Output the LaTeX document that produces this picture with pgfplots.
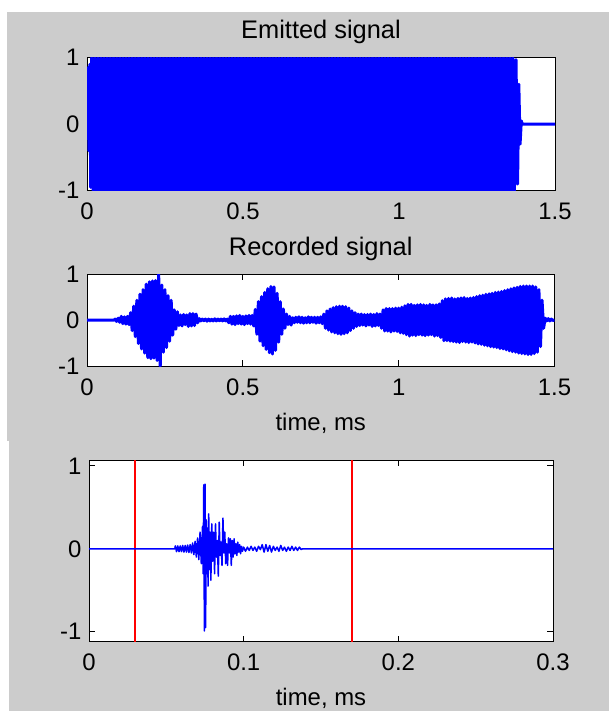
\documentclass[border=0pt]{standalone}
\usepackage{pgfplots}
\pgfplotsset{compat=1.18}
\usepackage{fontspec}
\setmainfont{Liberation Sans}
\definecolor{figgray}{RGB}{204,204,204}
\definecolor{mblue}{RGB}{0,0,255}
\definecolor{mred}{RGB}{255,0,0}
\pgfplotsset{
  mstyle/.style={
    scale only axis,
    axis background/.style={fill=white},
    axis line style={black, line width=1bp},
    tick style={black, line width=1bp},
    tick align=inside,
    major tick length=6bp,
    ymin=-1, ymax=1, ytick={-1,0,1},
    /pgf/number format/assume math mode=true,
    ticklabel style={font=\fontsize{24}{26}\selectfont},
    xticklabel style={anchor=base, yshift=-29bp},
    yticklabel style={anchor=east, xshift=-4bp},
    label style={font=\fontsize{24}{26}\selectfont},
    xlabel style={at={(axis description cs:0.5,0)}, anchor=base, yshift=-64bp},
    title style={font=\fontsize{25.5}{27}\selectfont, at={(axis description cs:0.5,1)}, anchor=base, yshift=13bp},
  }
}
\begin{document}
\begin{tikzpicture}
\path[use as bounding box] (0bp,0bp) rectangle (609bp,-711bp);
\fill[white] (0bp,0bp) rectangle (609bp,-711bp);
\fill[figgray] (7bp,-12bp) rectangle (609bp,-441bp);
\fill[figgray] (9bp,-441bp) rectangle (609bp,-711bp);

% ---------- Emitted signal ----------
\begin{axis}[mstyle, at={(87bp,-190.7bp)}, anchor=south west,
  width=468bp, height=133bp, xmin=0, xmax=1.5, xtick={0,0.5,1,1.5},
  title={Emitted signal}]
\addplot[mblue, line width=3bp, line join=round] coordinates {
(0,0)(0.003,0.85)(0.006,-0.4)(0.009,0.9)(0.012,-0.95)(0.015,1)(0.02,-1)(0.025,1)(0.03,-1)(0.035,1)(0.04,-1)(0.045,1)(0.05,-1)(0.055,1)(0.06,-1)(0.065,1)(0.07,-1)(0.075,1)(0.08,-1)(0.085,1)(0.09,-1)(0.095,1)(0.1,-1)
(0.105,1)(0.11,-1)(0.115,1)(0.12,-1)(0.125,1)(0.13,-1)(0.135,1)(0.14,-1)(0.145,1)(0.15,-1)(0.155,1)(0.16,-1)(0.165,1)(0.17,-1)(0.175,1)(0.18,-1)(0.185,1)(0.19,-1)(0.195,1)(0.2,-1)
(0.205,1)(0.21,-1)(0.215,1)(0.22,-1)(0.225,1)(0.23,-1)(0.235,1)(0.24,-1)(0.245,1)(0.25,-1)(0.255,1)(0.26,-1)(0.265,1)(0.27,-1)(0.275,1)(0.28,-1)(0.285,1)(0.29,-1)(0.295,1)(0.3,-1)
(0.305,1)(0.31,-1)(0.315,1)(0.32,-1)(0.325,1)(0.33,-1)(0.335,1)(0.34,-1)(0.345,1)(0.35,-1)(0.355,1)(0.36,-1)(0.365,1)(0.37,-1)(0.375,1)(0.38,-1)(0.385,1)(0.39,-1)(0.395,1)(0.4,-1)
(0.405,1)(0.41,-1)(0.415,1)(0.42,-1)(0.425,1)(0.43,-1)(0.435,1)(0.44,-1)(0.445,1)(0.45,-1)(0.455,1)(0.46,-1)(0.465,1)(0.47,-1)(0.475,1)(0.48,-1)(0.485,1)(0.49,-1)(0.495,1)(0.5,-1)
(0.505,1)(0.51,-1)(0.515,1)(0.52,-1)(0.525,1)(0.53,-1)(0.535,1)(0.54,-1)(0.545,1)(0.55,-1)(0.555,1)(0.56,-1)(0.565,1)(0.57,-1)(0.575,1)(0.58,-1)(0.585,1)(0.59,-1)(0.595,1)(0.6,-1)
(0.605,1)(0.61,-1)(0.615,1)(0.62,-1)(0.625,1)(0.63,-1)(0.635,1)(0.64,-1)(0.645,1)(0.65,-1)(0.655,1)(0.66,-1)(0.665,1)(0.67,-1)(0.675,1)(0.68,-1)(0.685,1)(0.69,-1)(0.695,1)(0.7,-1)
(0.705,1)(0.71,-1)(0.715,1)(0.72,-1)(0.725,1)(0.73,-1)(0.735,1)(0.74,-1)(0.745,1)(0.75,-1)(0.755,1)(0.76,-1)(0.765,1)(0.77,-1)(0.775,1)(0.78,-1)(0.785,1)(0.79,-1)(0.795,1)(0.8,-1)
(0.805,1)(0.81,-1)(0.815,1)(0.82,-1)(0.825,1)(0.83,-1)(0.835,1)(0.84,-1)(0.845,1)(0.85,-1)(0.855,1)(0.86,-1)(0.865,1)(0.87,-1)(0.875,1)(0.88,-1)(0.885,1)(0.89,-1)(0.895,1)(0.9,-1)
(0.905,1)(0.91,-1)(0.915,1)(0.92,-1)(0.925,1)(0.93,-1)(0.935,1)(0.94,-1)(0.945,1)(0.95,-1)(0.955,1)(0.96,-1)(0.965,1)(0.97,-1)(0.975,1)(0.98,-1)(0.985,1)(0.99,-1)(0.995,1)(1,-1)
(1.005,1)(1.01,-1)(1.015,1)(1.02,-1)(1.025,1)(1.03,-1)(1.035,1)(1.04,-1)(1.045,1)(1.05,-1)(1.055,1)(1.06,-1)(1.065,1)(1.07,-1)(1.075,1)(1.08,-1)(1.085,1)(1.09,-1)(1.095,1)(1.1,-1)
(1.105,1)(1.11,-1)(1.115,1)(1.12,-1)(1.125,1)(1.13,-1)(1.135,1)(1.14,-1)(1.145,1)(1.15,-1)(1.155,1)(1.16,-1)(1.165,1)(1.17,-1)(1.175,1)(1.18,-1)(1.185,1)(1.19,-1)(1.195,1)(1.2,-1)
(1.205,1)(1.21,-1)(1.215,1)(1.22,-1)(1.225,1)(1.23,-1)(1.235,1)(1.24,-1)(1.245,1)(1.25,-1)(1.255,1)(1.26,-1)(1.265,1)(1.27,-1)(1.275,1)(1.28,-1)(1.285,1)(1.29,-1)(1.295,1)(1.3,-1)
(1.305,1)(1.31,-1)(1.315,1)(1.32,-1)(1.325,1)(1.33,-1)(1.335,1)(1.34,-1)(1.345,1)(1.35,-1)(1.355,1)(1.36,-1)(1.365,1)(1.37,-1)(1.375,0.97)(1.38,-0.9)(1.384,0.6)(1.388,-0.3)(1.392,0.05)(1.395,0)(1.5,0)
};
\end{axis}

% ---------- Recorded signal ----------
\begin{axis}[mstyle, at={(87bp,-366bp)}, anchor=south west,
  width=467.5bp, height=92bp, xmin=0, xmax=1.5, xtick={0,0.5,1,1.5},
  title={Recorded signal}, xlabel={time, ms}]
\addplot[mblue, line width=3bp, line join=round] coordinates {
(0,0)(0.088,0)(0.09,0.02)(0.095,-0.03)(0.1,0.04)(0.105,-0.05)(0.11,0.08)(0.115,-0.08)(0.12,0.07)(0.125,-0.09)(0.13,0.08)(0.135,-0.1)
(0.14,0.16)(0.145,-0.23)(0.15,0.3)(0.155,-0.36)(0.16,0.43)(0.165,-0.51)(0.17,0.56)(0.175,-0.63)(0.18,0.66)(0.185,-0.72)
(0.19,0.78)(0.195,-0.82)(0.2,0.83)(0.205,-0.84)(0.21,0.85)(0.215,-0.83)(0.22,0.86)(0.225,-0.88)(0.23,1)(0.235,-1)
(0.24,0.76)(0.245,-0.7)(0.25,0.66)(0.255,-0.6)(0.26,0.53)(0.265,-0.46)(0.27,0.43)(0.275,-0.33)(0.28,0.22)(0.285,-0.2)
(0.29,0.18)(0.295,-0.12)(0.3,0.11)(0.305,-0.13)(0.31,0.12)(0.315,-0.1)(0.32,0.11)(0.325,-0.14)(0.33,0.14)(0.335,-0.13)
(0.34,0.14)(0.345,-0.12)(0.35,0.13)(0.355,-0.06)(0.36,0.03)(0.365,-0.02)(0.37,0.02)(0.375,-0.015)(0.38,0.02)(0.385,-0.025)
(0.39,0.02)(0.395,-0.02)(0.4,0.015)(0.405,-0.02)(0.41,0.025)(0.415,-0.02)(0.42,0.02)(0.425,-0.015)(0.43,0.02)(0.435,-0.02)
(0.44,0.025)(0.445,-0.02)(0.45,0.02)(0.455,-0.06)(0.46,0.08)(0.465,-0.09)(0.47,0.08)(0.475,-0.1)(0.48,0.09)(0.485,-0.08)
(0.49,0.1)(0.495,-0.09)(0.5,0.08)(0.505,-0.1)(0.51,0.09)(0.515,-0.08)(0.52,0.1)(0.525,-0.09)(0.53,0.1)(0.535,-0.13)
(0.54,0.23)(0.545,-0.31)(0.55,0.4)(0.555,-0.46)(0.56,0.51)(0.565,-0.56)(0.57,0.6)(0.575,-0.64)(0.58,0.68)(0.585,-0.71)
(0.59,0.73)(0.595,-0.74)(0.6,0.72)(0.605,-0.66)(0.61,0.58)(0.615,-0.48)(0.62,0.4)(0.625,-0.31)(0.63,0.24)(0.635,-0.18)
(0.64,0.13)(0.645,-0.1)(0.65,0.08)(0.655,-0.11)(0.66,0.05)(0.665,-0.06)(0.67,0.06)(0.675,-0.05)(0.68,0.07)(0.685,-0.06)
(0.69,0.06)(0.695,-0.07)(0.7,0.05)(0.705,-0.06)(0.71,0.07)(0.715,-0.06)(0.72,0.06)(0.725,-0.05)(0.73,0.06)(0.735,-0.07)
(0.74,0.06)(0.745,-0.06)(0.75,0.07)(0.755,-0.08)(0.76,0.13)(0.765,-0.18)(0.77,0.2)(0.775,-0.22)(0.78,0.24)(0.785,-0.26)
(0.79,0.27)(0.795,-0.28)(0.8,0.29)(0.805,-0.3)(0.81,0.3)(0.815,-0.31)(0.82,0.3)(0.825,-0.3)(0.83,0.29)(0.835,-0.28)
(0.84,0.26)(0.845,-0.23)(0.85,0.2)(0.855,-0.18)(0.86,0.16)(0.865,-0.14)(0.87,0.13)(0.875,-0.12)(0.88,0.13)(0.885,-0.11)
(0.89,0.12)(0.895,-0.13)(0.9,0.12)(0.905,-0.11)(0.91,0.13)(0.915,-0.14)(0.92,0.12)(0.925,-0.13)(0.93,0.14)(0.935,-0.12)
(0.94,0.13)(0.945,-0.18)(0.95,0.22)(0.955,-0.24)(0.96,0.25)(0.965,-0.24)(0.97,0.25)(0.975,-0.26)(0.98,0.25)(0.985,-0.24)
(0.99,0.26)(0.995,-0.25)(1,0.26)(1.005,-0.28)(1.01,0.28)(1.015,-0.29)(1.02,0.31)(1.025,-0.32)(1.03,0.34)(1.035,-0.35)
(1.04,0.34)(1.045,-0.33)(1.05,0.32)(1.055,-0.34)(1.06,0.33)(1.065,-0.32)(1.07,0.34)(1.075,-0.33)(1.08,0.33)(1.085,-0.34)
(1.09,0.32)(1.095,-0.33)(1.1,0.34)(1.105,-0.32)(1.11,0.33)(1.115,-0.35)(1.12,0.33)(1.125,-0.34)(1.13,0.35)(1.135,-0.38)
(1.14,0.42)(1.145,-0.45)(1.15,0.46)(1.155,-0.45)(1.16,0.47)(1.165,-0.46)(1.17,0.48)(1.175,-0.47)(1.18,0.46)(1.185,-0.48)
(1.19,0.47)(1.195,-0.49)(1.2,0.48)(1.205,-0.47)(1.21,0.49)(1.215,-0.48)(1.22,0.47)(1.225,-0.49)(1.23,0.48)(1.235,-0.48)
(1.24,0.49)(1.245,-0.5)(1.25,0.51)(1.255,-0.52)(1.26,0.53)(1.265,-0.53)(1.27,0.54)(1.275,-0.55)(1.28,0.56)(1.285,-0.56)
(1.29,0.57)(1.295,-0.58)(1.3,0.58)(1.305,-0.59)(1.31,0.6)(1.315,-0.6)(1.32,0.61)(1.325,-0.62)(1.33,0.62)(1.335,-0.63)
(1.34,0.64)(1.345,-0.65)(1.35,0.66)(1.355,-0.67)(1.36,0.68)(1.365,-0.69)(1.37,0.7)(1.375,-0.7)(1.38,0.71)(1.385,-0.72)
(1.39,0.73)(1.395,-0.73)(1.4,0.74)(1.405,-0.74)(1.41,0.74)(1.415,-0.75)(1.42,0.74)(1.425,-0.75)(1.43,0.74)(1.435,-0.73)
(1.44,0.72)(1.445,-0.7)(1.45,0.66)(1.455,-0.58)(1.46,0.43)(1.465,-0.18)(1.47,0.04)(1.475,-0.02)(1.48,0.03)(1.485,-0.02)
(1.49,0.02)(1.495,-0.01)(1.5,0)
};
\end{axis}

% ---------- Zoomed echo ----------
\begin{axis}[mstyle, at={(89bp,-641.7bp)}, anchor=south west,
  width=464bp, height=181.7bp, xmin=0, xmax=0.3, xtick={0,0.1,0.2,0.3},
  ymin=-1.12, ymax=1.07, xlabel={time, ms}]
\addplot[mred, line width=2bp] coordinates {(0.03,-1.12)(0.03,1.07)};
\addplot[mred, line width=2bp] coordinates {(0.17,-1.12)(0.17,1.07)};
\addplot[mblue, line width=1.5bp, line join=round] coordinates {
(0,0)(0.0555,0)
(0.0558,0.035)(0.0566,-0.035)(0.0574,0.035)(0.0582,-0.035)(0.059,0.035)(0.0598,-0.035)(0.0606,0.04)(0.0614,-0.04)(0.0622,0.04)(0.063,-0.04)
(0.0638,0.045)(0.0646,-0.045)(0.0654,0.05)(0.0662,-0.05)(0.067,0.07)(0.0678,-0.07)(0.0686,0.09)(0.0694,-0.1)(0.0702,0.13)(0.071,-0.13)
(0.0718,0.2)(0.0726,-0.18)(0.0734,0.27)(0.0738,-0.3)(0.0742,0.77)(0.0746,-0.99)(0.075,0.78)(0.0754,-0.95)(0.0758,0.35)(0.0762,-0.3)
(0.0766,0.25)(0.077,-0.45)(0.0774,0.42)(0.0778,-0.25)(0.0782,0.2)(0.0788,-0.38)(0.0794,0.3)(0.08,-0.15)(0.0806,0.2)(0.0812,-0.3)
(0.0818,0.3)(0.0824,-0.1)(0.083,0.1)(0.0836,-0.33)(0.0842,0.32)(0.0848,-0.08)(0.0854,0.08)(0.086,-0.2)(0.0866,0.37)(0.0872,-0.05)
(0.0878,0.2)(0.0884,-0.18)(0.089,0.06)(0.0896,-0.2)(0.0902,0.13)(0.0908,-0.05)(0.0914,0.12)(0.092,-0.2)(0.0926,0.1)(0.0932,-0.1)
(0.0938,0.12)(0.0944,-0.06)(0.095,0.06)(0.0956,-0.08)(0.0962,0.08)(0.0968,-0.04)(0.0974,0.05)(0.098,-0.06)(0.0986,0.03)(0.0992,-0.03)
(0.1,0.02)(0.1012,-0.03)(0.1024,0.02)(0.1036,-0.02)(0.1048,0.03)(0.106,-0.02)(0.1072,0.02)(0.1084,-0.03)(0.1096,0.03)(0.1108,-0.01)
(0.112,0.05)(0.1132,-0.04)(0.1144,0.05)(0.1156,-0.03)(0.1168,0.04)(0.118,-0.04)(0.1192,0.03)(0.1204,-0.02)(0.1216,0.02)(0.1228,-0.03)
(0.124,0.04)(0.1252,-0.02)(0.1264,0.02)(0.1276,-0.03)(0.1288,0.02)(0.13,-0.02)(0.1312,0.03)(0.1324,-0.02)(0.1336,0.02)(0.1348,-0.02)
(0.136,0.02)(0.1372,-0.01)(0.138,0)(0.3,0)
};
\end{axis}
\end{tikzpicture}
\end{document}
